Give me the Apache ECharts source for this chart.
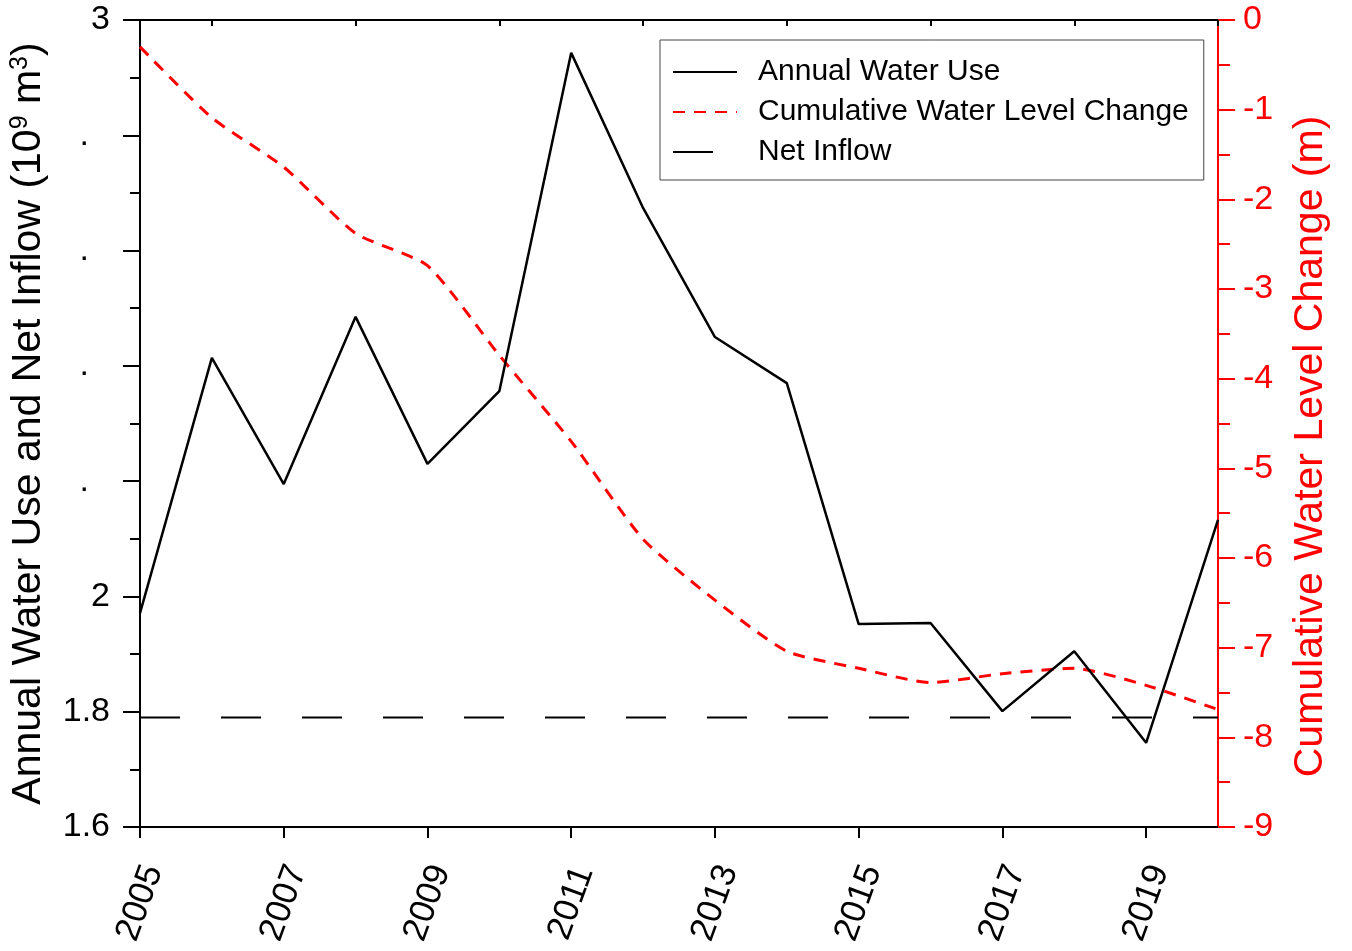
<!DOCTYPE html>
<html><head><meta charset="utf-8">
<script src="https://cdn.jsdelivr.net/npm/echarts@6/dist/echarts.min.js"></script>
<style>html,body{margin:0;padding:0;background:#fff}#c{width:1352px;height:951px}</style>
</head><body><div id="c"></div>
<script>
// ---- data ----
const years = [2005,2006,2007,2008,2009,2010,2011,2012,2013,2014,2015,2016,2017,2018,2019,2020];
const annualWaterUse = [1.971,2.414,2.195,2.485,2.230,2.356,2.943,2.674,2.450,2.370,1.952,1.954,1.801,1.905,1.746,2.133];
const cumulativeLevelChange = [-0.30,-1.09,-1.64,-2.38,-2.74,-3.74,-4.70,-5.79,-6.47,-7.04,-7.23,-7.39,-7.29,-7.23,-7.42,-7.69];
const netInflowYears = [2005, 2020];
const netInflow = [1.79, 1.79];
const xLabelYears = [2005,2007,2009,2011,2013,2015,2017,2019];
const xMinorYears = [2006,2008,2010,2012,2014,2016,2018,2020];
const leftTickValues = [1.6,1.8,2.0,2.2,2.4,2.6,2.8,3.0];
const leftTickLabels = ['1.6','1.8','2','.','.','.','.','3'];

const FONT = 'Liberation Sans, Arial, sans-serif';
const chart = echarts.init(document.getElementById('c'), null, {renderer: 'canvas'});

function pairs(xs, ys){ return xs.map((x,i)=>[x, ys[i]]); }

const option = {
  backgroundColor: '#fff',
  animation: false,
  textStyle: {fontFamily: FONT},
  grid: {left: 140, right: 134, top: 20, bottom: 124, containLabel: false},
  legend: {
    orient: 'vertical', left: 660, top: 40,
    padding: [17, 15, 13, 12],
    itemGap: 10, itemWidth: 64, itemHeight: 2,
    borderColor: '#444', borderWidth: 1,
    itemStyle: {opacity: 0},
    textStyle: {fontSize: 30, color: '#000', fontFamily: FONT, padding: [0,0,0,16], lineHeight: 30},
    data: ['Annual Water Use', 'Cumulative Water Level Change', 'Net Inflow']
  },
  xAxis: [
    {
      type: 'value', min: 2005, max: 2020, position: 'bottom',
      axisLine: {show: true, onZero: false, lineStyle: {color: '#000', width: 2}},
      axisTick: {show: true, customValues: xLabelYears, length: 11, lineStyle: {color: '#000', width: 2}},
      axisLabel: {show: true, customValues: xLabelYears, rotate: 70, align: 'center', verticalAlign: 'middle',
        margin: 76, fontSize: 35, color: '#000', fontFamily: FONT, formatter: v => String(v)},
      splitLine: {show: false}
    },
    {
      type: 'value', min: 2005, max: 2020, position: 'bottom',
      axisLine: {show: false},
      axisTick: {show: true, customValues: xMinorYears, length: 6, lineStyle: {color: '#000', width: 2}},
      axisLabel: {show: false},
      splitLine: {show: false}
    },
    {
      type: 'value', min: 2005, max: 2020, position: 'top',
      axisLine: {show: true, onZero: false, lineStyle: {color: '#000', width: 2}},
      axisTick: {show: false}, axisLabel: {show: false}, splitLine: {show: false}
    }
  ],
  yAxis: [
    {
      type: 'value', min: 1.6, max: 3.0, interval: 0.2, position: 'left',
      name: 'Annual Water Use and Net Inflow (10{sup|9} m{sup|3})',
      nameLocation: 'middle', nameRotate: 90, nameGap: 91,
      nameTextStyle: {fontSize: 41, color: '#000', fontFamily: FONT,
        rich: {sup: {fontSize: 25, verticalAlign: 'top', color: '#000', fontFamily: FONT}}},
      axisLine: {show: true, onZero: false, lineStyle: {color: '#000', width: 2}},
      axisTick: {show: true, length: 17, lineStyle: {color: '#000', width: 2}},
      minorTick: {show: true, splitNumber: 2, length: 10, lineStyle: {color: '#000', width: 2}},
      axisLabel: {fontSize: 34, color: '#000', margin: 30, fontFamily: FONT,
        formatter: function(v){
          const i = leftTickValues.findIndex(t => Math.abs(t - v) < 1e-6);
          const s = i >= 0 ? leftTickLabels[i] : '';
          return s === '.' ? '{dot|.}' : s;
        },
        rich: {dot: {fontSize: 34, color: '#000', fontFamily: FONT, padding: [0, 21, 0, 0]}}
      },
      splitLine: {show: false}
    },
    {
      type: 'value', min: -9, max: 0, interval: 1, position: 'right',
      name: 'Cumulative Water Level Change (m)',
      nameLocation: 'middle', nameRotate: 90, nameGap: 72,
      nameTextStyle: {fontSize: 41, color: '#ff0000', fontFamily: FONT, padding: [0, 46, 0, 0]},
      axisLine: {show: true, onZero: false, lineStyle: {color: '#ff0000', width: 2}},
      axisTick: {show: true, length: 17, lineStyle: {color: '#ff0000', width: 2}},
      minorTick: {show: true, splitNumber: 2, length: 12, lineStyle: {color: '#ff0000', width: 2}},
      axisLabel: {fontSize: 34, color: '#ff0000', margin: 25, fontFamily: FONT},
      splitLine: {show: false}
    }
  ],
  series: [
    {
      name: 'Annual Water Use', type: 'line', xAxisIndex: 0, yAxisIndex: 0,
      data: pairs(years, annualWaterUse), symbol: 'none',
      lineStyle: {color: '#000', width: 2.5, type: 'solid'}, itemStyle: {color: '#000'}, z: 3
    },
    {
      name: 'Cumulative Water Level Change', type: 'line', xAxisIndex: 0, yAxisIndex: 1,
      data: pairs(years, cumulativeLevelChange), symbol: 'none', smooth: 0.2,
      lineStyle: {color: '#ff0000', width: 3, type: [12, 9]}, itemStyle: {color: '#ff0000'}, z: 2
    },
    {
      name: 'Net Inflow', type: 'line', xAxisIndex: 0, yAxisIndex: 0,
      data: pairs(netInflowYears, netInflow), symbol: 'none',
      lineStyle: {color: '#000', width: 2, type: [40, 41]}, itemStyle: {color: '#000'}, z: 2
    }
  ]
};
chart.setOption(option);
</script>
</body></html>
